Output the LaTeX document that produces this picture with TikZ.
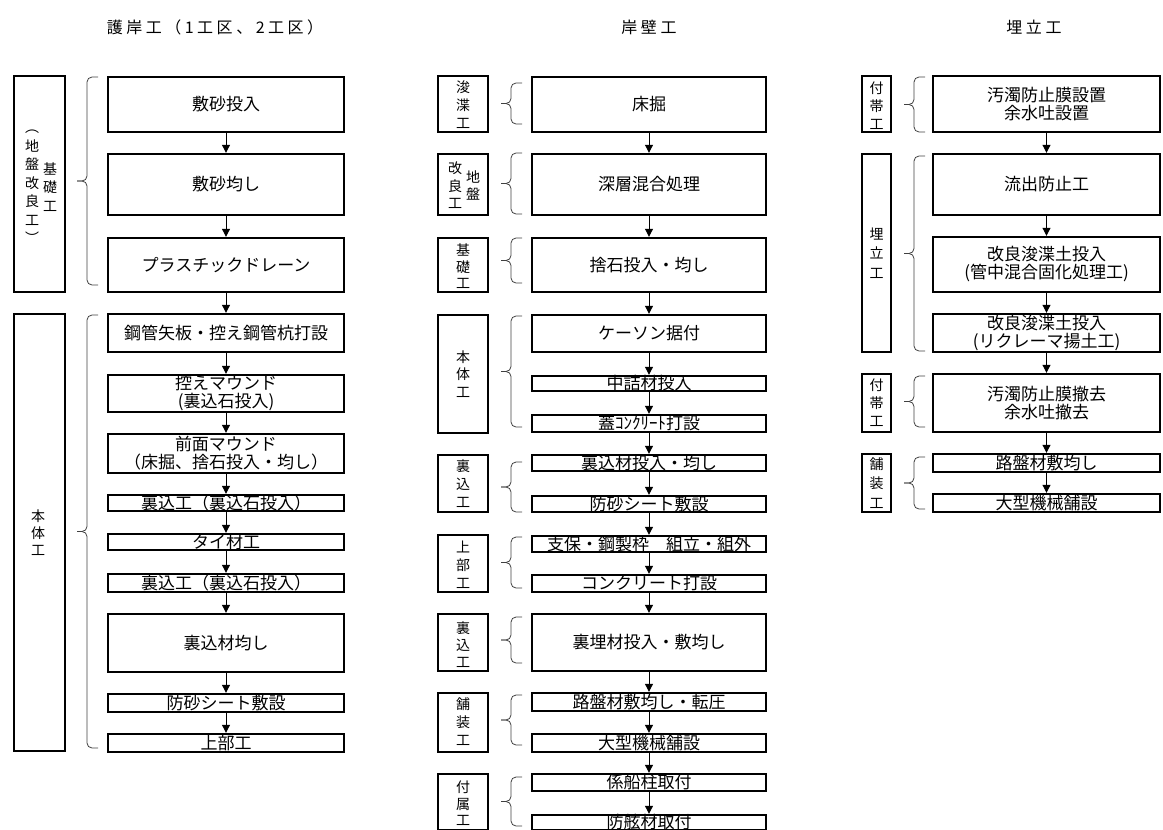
\documentclass[tikz,border=0pt]{standalone}
\usepackage{fontspec}
\setmainfont{Noto Sans CJK JP}
\newfontfamily\headfont[LetterSpace=22]{Noto Sans CJK JP}
\usetikzlibrary{arrows.meta}
\tikzset{
  stepbox/.style={draw, line width=2.4pt, inner sep=0pt, font=\fontsize{17}{18}\selectfont},
  onerow/.style={stepbox, text height=12.6pt, text depth=0pt},
  tworow/.style={stepbox, align=center},
  kindbox/.style={draw, line width=2.2pt, inner sep=0pt},
  kindtext/.style={inner sep=0pt, align=center, font=\fontsize{14}{18}\selectfont},
  grp/.style={line width=0.8pt, draw=black!75, rounded corners=5pt},
  flow/.style={-{Triangle[width=8pt,length=8pt]}, line width=1pt},
  head/.style={font=\headfont\fontsize{16}{18}\selectfont},
  wl/.style={minimum width=236pt},
  wm/.style={minimum width=234pt},
  wr/.style={minimum width=227pt}
}
% left-facing brace: x of the hook ends, top, bottom
\newcommand\grpbrace[3]{%
  \draw[grp] (#1,#2) -- (#1-11,#2) -- (#1-11,{(#2+#3)/2}) -- (#1-21,{(#2+#3)/2});
  \draw[grp] (#1,#3) -- (#1-11,#3) -- (#1-11,{(#2+#3)/2}) -- (#1-21,{(#2+#3)/2});}
\begin{document}
\begin{tikzpicture}[x=1pt, y=-1pt]
  \useasboundingbox (0,0) rectangle (1163,830);

  % headers
  \node[head] (h1) at (215,27) {護岸工（1工区、2工区）};
  \node[head] (h2) at (649,27) {岸壁工};
  \node[head] (h3) at (1034,27) {埋立工};

  % left column
  \node[kindbox, minimum width=51, minimum height=216] (la) at (39.5,184) {};
  \node[kindtext, font=\fontsize{14}{18.5}\selectfont] (la1) at (32,187) {︵\\地\\盤\\改\\良\\工\\︶};
  \node[kindtext, font=\fontsize{14}{18.5}\selectfont] (la2) at (50,187) {基\\礎\\工};
  \node[kindbox, minimum width=51, minimum height=437] (lb) at (39.5,532.5) {};
  \node[kindtext, font=\fontsize{14}{17}\selectfont] (lb1) at (38,533) {本\\体\\工};

  \node[onerow, wl, minimum height=55] (l1) at (226,104.5) {敷砂投入};
  \node[onerow, wl, minimum height=61] (l2) at (226,184.5) {敷砂均し};
  \node[onerow, wl, minimum height=54] (l3) at (226,265) {プラスチックドレーン};
  \node[onerow, wl, minimum height=38] (l4) at (226,333) {鋼管矢板・控え鋼管杭打設};
  \node[tworow, wl, minimum height=37] (l5) at (226,393.5) {控えマウンド\\(裏込石投入)};
  \node[tworow, wl, minimum height=39] (l6) at (226,453.5) {前面マウンド\\（床掘、捨石投入・均し）};
  \node[onerow, wl, minimum height=16] (l7) at (226,503) {裏込工（裏込石投入）};
  \node[onerow, wl, minimum height=16] (l8) at (226,542) {タイ材工};
  \node[onerow, wl, minimum height=18] (l9) at (226,583) {裏込工（裏込石投入）};
  \node[onerow, wl, minimum height=58] (l10) at (226,643) {裏込材均し};
  \node[onerow, wl, minimum height=18] (l11) at (226,703) {防砂シート敷設};
  \node[onerow, wl, minimum height=18] (l12) at (226,743) {上部工};

  \grpbrace{98}{77}{285}
  \grpbrace{98}{315}{748}

  \draw[flow] (l1) -- (l2);
  \draw[flow] (l2) -- (l3);
  \draw[flow] (l3) -- (l4);
  \draw[flow] (l4) -- (l5);
  \draw[flow] (l5) -- (l6);
  \draw[flow] (l6) -- (l7);
  \draw[flow] (l7) -- (l8);
  \draw[flow] (l8) -- (l9);
  \draw[flow] (l9) -- (l10);
  \draw[flow] (l10) -- (l11);
  \draw[flow] (l11) -- (l12);

  % middle column
  \node[kindbox, minimum width=50, minimum height=56] (ma) at (463,104) {};
  \node[kindtext] (ma1) at (463,105) {浚\\渫\\工};
  \node[kindbox, minimum width=50, minimum height=61] (mb) at (463,184.5) {};
  \node[kindtext, font=\fontsize{14}{17.5}\selectfont] (mb1) at (455,185.5) {改\\良\\工};
  \node[kindtext, font=\fontsize{14}{17.5}\selectfont] (mb2) at (473,185.5) {地\\盤};
  \node[kindbox, minimum width=50, minimum height=54] (mc) at (463,265) {};
  \node[kindtext, font=\fontsize{14}{16.5}\selectfont] (mc1) at (463,266.5) {基\\礎\\工};
  \node[kindbox, minimum width=50, minimum height=118] (md) at (463,374) {};
  \node[kindtext, font=\fontsize{14}{17.5}\selectfont] (md1) at (463,374) {本\\体\\工};
  \node[kindbox, minimum width=50, minimum height=57] (me) at (463,483.5) {};
  \node[kindtext] (me1) at (463,484) {裏\\込\\工};
  \node[kindbox, minimum width=50, minimum height=57] (mf) at (463,563.5) {};
  \node[kindtext] (mf1) at (463,565) {上\\部\\工};
  \node[kindbox, minimum width=50, minimum height=57] (mg) at (463,642.5) {};
  \node[kindtext, font=\fontsize{14}{17}\selectfont] (mg1) at (463,645) {裏\\込\\工};
  \node[kindbox, minimum width=50, minimum height=59] (mh) at (463,722.5) {};
  \node[kindtext] (mh1) at (463,722) {舗\\装\\工};
  \node[kindbox, minimum width=50, minimum height=56] (mi) at (463,802) {};
  \node[kindtext, font=\fontsize{14}{16.5}\selectfont] (mi1) at (463,803.5) {付\\属\\工};

  \node[onerow, wm, minimum height=55] (m1) at (649,104.5) {床掘};
  \node[onerow, wm, minimum height=61] (m2) at (649,184.5) {深層混合処理};
  \node[onerow, wm, minimum height=54] (m3) at (649,265) {捨石投入・均し};
  \node[onerow, wm, minimum height=37] (m4) at (649,333.5) {ケーソン据付};
  \node[onerow, wm, minimum height=15] (m5) at (649,383.5) {中詰材投入};
  \node[onerow, wm, minimum height=17] (m6) at (649,423.5) {蓋ｺﾝｸﾘｰﾄ打設};
  \node[onerow, wm, minimum height=16] (m7) at (649,463) {裏込材投入・均し};
  \node[onerow, wm, minimum height=16] (m8) at (649,504) {防砂シート敷設};
  \node[onerow, wm, minimum height=16] (m9) at (649,544) {支保・鋼製枠　組立・組外};
  \node[onerow, wm, minimum height=17] (m10) at (649,583.5) {コンクリート打設};
  \node[onerow, wm, minimum height=57] (m11) at (649,642.5) {裏埋材投入・敷均し};
  \node[onerow, wm, minimum height=18] (m12) at (649,702) {路盤材敷均し・転圧};
  \node[onerow, wm, minimum height=18] (m13) at (649,743) {大型機械舗設};
  \node[onerow, wm, minimum height=17] (m14) at (649,782.5) {係船柱取付};
  \node[onerow, wm, minimum height=15] (m15) at (649,822.5) {防舷材取付};

  \grpbrace{522}{83}{124}
  \grpbrace{522}{153}{214}
  \grpbrace{522}{238}{283}
  \grpbrace{522}{316}{427}
  \grpbrace{522}{462}{512}
  \grpbrace{522}{537}{588}
  \grpbrace{522}{617}{663}
  \grpbrace{522}{695}{745}
  \grpbrace{522}{777}{826}

  \draw[flow] (m1) -- (m2);
  \draw[flow] (m2) -- (m3);
  \draw[flow] (m3) -- (m4);
  \draw[flow] (m4) -- (m5);
  \draw[flow] (m5) -- (m6);
  \draw[flow] (m6) -- (m7);
  \draw[flow] (m7) -- (m8);
  \draw[flow] (m8) -- (m9);
  \draw[flow] (m9) -- (m10);
  \draw[flow] (m10) -- (m11);
  \draw[flow] (m11) -- (m12);
  \draw[flow] (m12) -- (m13);
  \draw[flow] (m13) -- (m14);
  \draw[flow] (m14) -- (m15);

  % right column
  \node[kindbox, minimum width=29, minimum height=56] (ra) at (876.5,104) {};
  \node[kindtext] (ra1) at (876.5,105.5) {付\\帯\\工};
  \node[kindbox, minimum width=29, minimum height=198] (rb) at (876.5,253) {};
  \node[kindtext, font=\fontsize{14}{19.5}\selectfont] (rb1) at (876.5,253) {埋\\立\\工};
  \node[kindbox, minimum width=29, minimum height=58] (rc) at (876.5,403) {};
  \node[kindtext] (rc1) at (876.5,403) {付\\帯\\工};
  \node[kindbox, minimum width=29, minimum height=58] (rd) at (876.5,483) {};
  \node[kindtext, font=\fontsize{14}{19.5}\selectfont] (rd1) at (876.5,483) {舗\\装\\工};

  \node[tworow, wr, minimum height=56] (r1) at (1046.5,104) {汚濁防止膜設置\\余水吐設置};
  \node[onerow, wr, minimum height=61] (r2) at (1046.5,184.5) {流出防止工};
  \node[tworow, wr, minimum height=55] (r3) at (1046.5,264.5) {改良浚渫土投入\\(管中混合固化処理工)};
  \node[tworow, wr, minimum height=38] (r4) at (1046.5,333) {改良浚渫土投入\\(リクレーマ揚土工)};
  \node[tworow, wr, minimum height=58] (r5) at (1046.5,403) {汚濁防止膜撤去\\余水吐撤去};
  \node[onerow, wr, minimum height=18] (r6) at (1046.5,463) {路盤材敷均し};
  \node[onerow, wr, minimum height=18] (r7) at (1046.5,503) {大型機械舗設};

  \grpbrace{925}{77}{132}
  \grpbrace{925}{156}{351}
  \grpbrace{925}{376}{427}
  \grpbrace{925}{457}{509}

  \draw[flow] (r1) -- (r2);
  \draw[flow] (r2) -- (r3);
  \draw[flow] (r3) -- (r4);
  \draw[flow] (r4) -- (r5);
  \draw[flow] (r5) -- (r6);
  \draw[flow] (r6) -- (r7);
\end{tikzpicture}
\end{document}
